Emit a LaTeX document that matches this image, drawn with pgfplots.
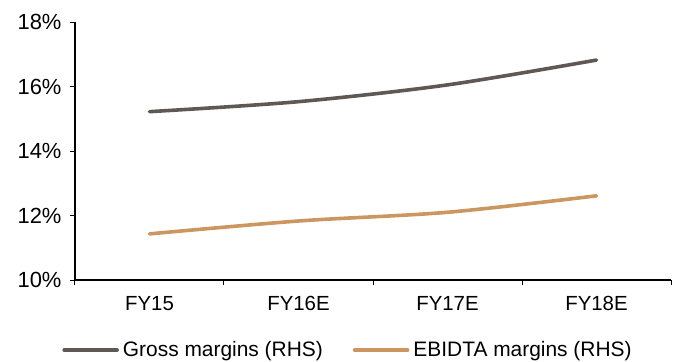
\documentclass[border=0pt]{standalone}
\usepackage{fontspec}
\setmainfont{Liberation Sans}
\usepackage{pgfplots}
\pgfplotsset{compat=1.18}

\definecolor{grossc}{HTML}{5F5956}
\definecolor{ebitc}{HTML}{CC9660}

\begin{document}
\begin{tikzpicture}
% fixed canvas around the plot area
\path[use as bounding box] (-75bp,-82bp) rectangle (607bp,280bp);
\begin{axis}[
  at={(0,0)}, anchor=south west,
  scale only axis,
  width=596bp, height=258bp,
  xmin=-0.5, xmax=3.5,
  ymin=10, ymax=18,
  axis x line=bottom, axis y line=left,
  axis line style={line width=1.2bp, black, -},
  xtick={0,1,2,3},
  xticklabels={FY15,FY16E,FY17E,FY18E},
  minor xtick={-0.5,0.5,1.5,2.5,3.5},
  major x tick style={draw=none},
  minor x tick style={line width=1bp, black},
  ytick={10,12,14,16,18},
  y tick style={line width=1bp, black},
  tick align=outside,
  major tick length=5bp, minor tick length=5bp,
  yticklabel={\pgfmathprintnumber{\tick}\%},
  /pgf/number format/assume math mode=true,
  ticklabel style={font=\fontsize{20.5}{24}\selectfont, black},
  xticklabel style={yshift=-8bp},
  yticklabel style={xshift=-5bp, font=\fontsize{22}{24}\selectfont},
  legend columns=2,
  legend style={
    at={(0.458,-0.271)}, anchor=center, draw=none, fill=none,
    font=\fontsize{21}{24}\selectfont,
    inner sep=0pt,
    /tikz/every odd column/.append style={column sep=2bp},
    /tikz/every even column/.append style={column sep=28bp},
  },
  legend image code/.code={\draw[#1] (0bp,0bp) -- (53bp,0bp);},
  every axis plot/.append style={line width=3.6bp, line cap=round, smooth},
]
\addplot[grossc] coordinates {(0,15.22) (1,15.53) (2,16.05) (3,16.82)};
\addlegendentry{Gross margins (RHS)}
\addplot[ebitc] coordinates {(0,11.43) (1,11.83) (2,12.10) (3,12.61)};
\addlegendentry{EBIDTA margins (RHS)}
\end{axis}
\end{tikzpicture}
\end{document}
